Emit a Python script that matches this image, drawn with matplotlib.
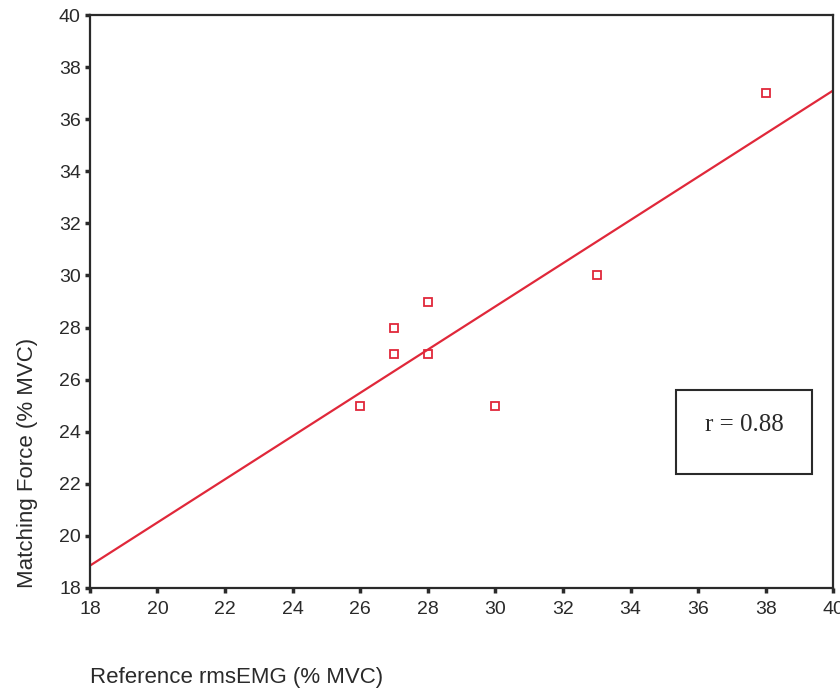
import matplotlib.pyplot as plt
import numpy as np
from matplotlib.patches import Rectangle

# Data
ref_emg = [38, 33, 28, 27, 27, 28, 26, 30]        # Reference rmsEMG (% MVC)
match_force = [37, 30, 29, 28, 27, 27, 25, 25]    # Matching Force (% MVC)
r_text = 'r = 0.88'

x_ticks = list(range(18, 41, 2))
y_ticks = list(range(18, 41, 2))

RED = '#e0283a'
INK = '#2a2a2a'

plt.rcParams['font.family'] = ['Liberation Sans', 'DejaVu Sans']

fig = plt.figure(figsize=(8.4, 6.9), dpi=100)
ax = fig.add_axes([0.107, 0.148, 0.885, 0.830])

# regression line through the points
slope, intercept = np.polyfit(ref_emg, match_force, 1)
xl = np.array([18, 40])
ax.plot(xl, slope * xl + intercept, color=RED, lw=1.6, zorder=2)

ax.plot(ref_emg, match_force, linestyle='none', marker='s', markersize=6,
        markerfacecolor='none', markeredgecolor=RED, markeredgewidth=1.3, zorder=3)

ax.set_xlim(18, 40)
ax.set_ylim(18, 40)
ax.set_xticks(x_ticks)
ax.set_yticks(y_ticks)
ax.tick_params(direction='out', length=3.5, width=2.5, labelsize=14,
               color=INK, labelcolor=INK)
ax.tick_params(axis='x', pad=6)
ax.tick_params(axis='y', pad=3)
for s in ax.spines.values():
    s.set_linewidth(1.6)
    s.set_color(INK)

ax.set_xlabel('Reference rmsEMG (% MVC)', fontsize=16, labelpad=35, loc='left', color=INK)
ax.set_ylabel('Matching Force (% MVC)', fontsize=16, labelpad=15, loc='bottom', color=INK)

# correlation box
ax.add_patch(Rectangle((0.789, 0.199), 0.182, 0.146, transform=ax.transAxes,
                       fill=False, edgecolor=INK, lw=1.5, clip_on=False, zorder=4))
ax.text(0.88, 0.284, r_text, transform=ax.transAxes, ha='center', va='center',
        fontsize=18, color=INK, family=['Liberation Serif', 'DejaVu Serif'])

fig.savefig('out.png', dpi=100)
